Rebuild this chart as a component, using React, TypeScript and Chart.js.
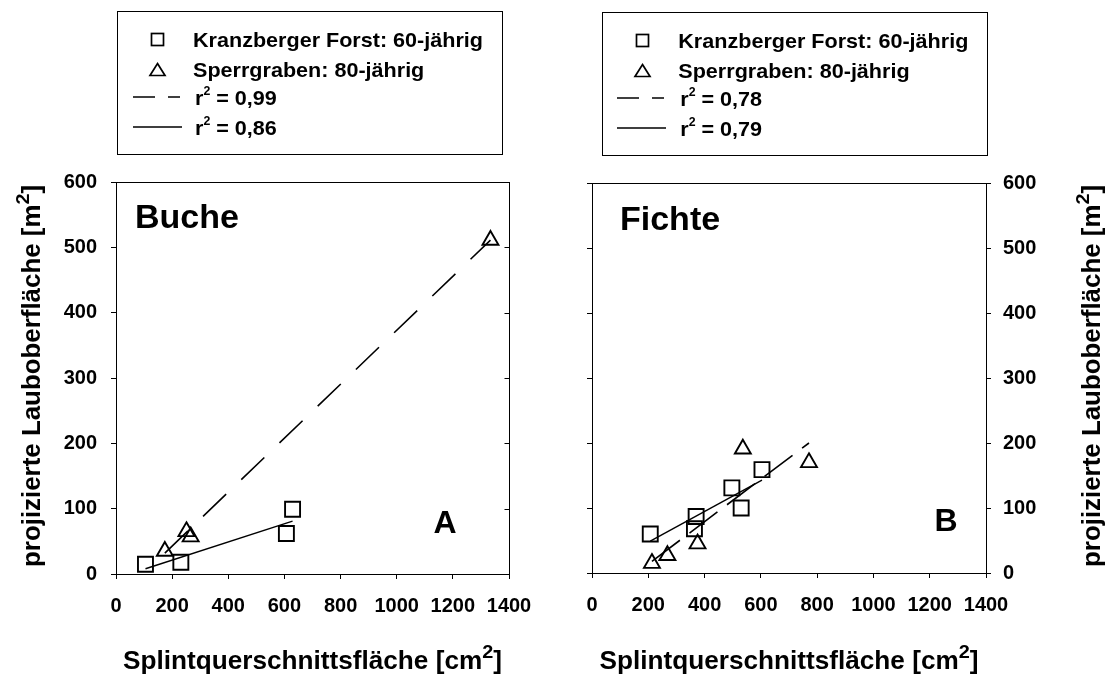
import React, { useEffect, useRef } from "react";
import { Chart, registerables } from "chart.js";

Chart.register(...registerables);

const FONT = "'Liberation Sans', Arial, Helvetica, sans-serif";

// ---- data ----
const legendSeries = ["Kranzberger Forst: 60-jährig", "Sperrgraben: 80-jährig"];
const xTitle = "Splintquerschnittsfläche [cm";
const yTitle = "projizierte Lauboberfläche [m";

// Buche (panel A)
const buKranzX = [105, 231, 607, 629];
const buKranzY = [15, 18, 62, 99];
const buSperrX = [174, 251, 266, 1334];
const buSperrY = [35, 65, 57, 511];
const buFitSperrX = [174, 1334];
const buFitSperrY = [32, 511];
const buFitKranzX = [105, 629];
const buFitKranzY = [8, 81];
const buR2 = ["0,99", "0,86"];

// Fichte (panel B)
const fiKranzX = [207, 370, 364, 497, 530, 604];
const fiKranzY = [60, 87, 68, 131, 100, 159];
const fiSperrX = [213, 268, 375, 536, 771];
const fiSperrY = [15, 27, 45, 191, 170];
const fiFitSperrX = [213, 771];
const fiFitSperrY = [18, 200];
const fiFitKranzX = [207, 604];
const fiFitKranzY = [49, 143];
const fiR2 = ["0,78", "0,79"];

const xMin = 0, xMax = 1400, xStep = 200;
const yMin = 0, yMax = 600, yStep = 100;

const zip = (xs: number[], ys: number[]) => xs.map((x, i) => ({ x, y: ys[i] }));

type Part = { t: string; size: number; dy: number };

function drawParts(ctx: CanvasRenderingContext2D, parts: Part[], x: number, y: number, targetW: number | null, align: "left" | "center") {
  let total = 0;
  const widths = parts.map((p) => {
    ctx.font = `bold ${p.size}px ${FONT}`;
    const w = ctx.measureText(p.t).width;
    total += w;
    return w;
  });
  const sc = targetW ? targetW / total : 1;
  ctx.save();
  ctx.translate(x, y);
  ctx.scale(sc, 1);
  let cx = align === "center" ? -total / 2 : 0;
  ctx.textAlign = "left";
  ctx.textBaseline = "alphabetic";
  ctx.fillStyle = "#000";
  parts.forEach((p, i) => {
    ctx.font = `bold ${p.size}px ${FONT}`;
    ctx.fillText(p.t, cx, p.dy);
    cx += widths[i];
  });
  ctx.restore();
}

type Panel = {
  name: string;
  letter: string;
  kx: number[]; ky: number[]; sx: number[]; sy: number[];
  fdx: number[]; fdy: number[]; fsx: number[]; fsy: number[];
  r2: string[];
  dash: number[];
  width: number;
  pad: { left: number; right: number; top: number; bottom: number };
  yMainPos: "left" | "right";
  yMainW: number; yOtherW: number; yPad: number;
  innerTicksOther: boolean;
  box: { x: number; y: number; w: number; h: number };
  mX: number; tX: number; rowY: number[]; lineX: number[]; dy: number;
  nameX: number; nameY: number; letterX: number; letterY: number;
  xTitleX: number; yTitleX: number;
};

const LEG = 21;

function decorPlugin(p: Panel) {
  return {
    id: "decor",
    afterDraw(chart: any) {
      const ctx: CanvasRenderingContext2D = chart.ctx;
      const a = chart.chartArea;
      ctx.save();
      ctx.strokeStyle = "#000";
      ctx.lineWidth = 1;
      // top frame
      const ty = Math.round(a.top) + 0.5;
      ctx.beginPath();
      ctx.moveTo(Math.round(a.left), ty);
      ctx.lineTo(Math.round(a.right) + 1, ty);
      ctx.stroke();
      // inner ticks on the opposite axis
      if (p.innerTicksOther) {
        const ys = chart.scales.y;
        const xr = Math.round(a.right) + 0.5;
        ys.ticks.forEach((t: any) => {
          const py = Math.round(ys.getPixelForValue(t.value)) + 0.5;
          ctx.beginPath();
          ctx.moveTo(xr - 5, py);
          ctx.lineTo(xr, py);
          ctx.stroke();
        });
      }
      // legend box
      ctx.strokeRect(p.box.x, p.box.y, p.box.w, p.box.h);
      // markers
      ctx.lineWidth = 1.7;
      const s = 12;
      ctx.strokeRect(p.mX - s / 2, p.rowY[0] - 7.5 + p.dy - s / 2, s, s);
      const tcy = p.rowY[1] - 7 + p.dy;
      ctx.beginPath();
      ctx.moveTo(p.mX, tcy - 6.5);
      ctx.lineTo(p.mX + 7.5, tcy + 5.5);
      ctx.lineTo(p.mX - 7.5, tcy + 5.5);
      ctx.closePath();
      ctx.stroke();
      // line samples
      ctx.lineWidth = 1.4;
      const ly1 = p.rowY[2] - 8 + p.dy;
      ctx.beginPath();
      ctx.moveTo(p.lineX[0], ly1); ctx.lineTo(p.lineX[0] + 22, ly1);
      ctx.moveTo(p.lineX[0] + 35, ly1); ctx.lineTo(p.lineX[0] + 47, ly1);
      const ly2 = p.rowY[3] - 8 + p.dy;
      ctx.moveTo(p.lineX[0], ly2); ctx.lineTo(p.lineX[0] + 49, ly2);
      ctx.stroke();
      // legend texts
      ctx.font = `bold ${LEG}px ${FONT}`;
      const nat = ctx.measureText(legendSeries[0]).width;
      const lsc = 290 / nat;
      drawParts(ctx, [{ t: legendSeries[0], size: LEG, dy: 0 }], p.tX, p.rowY[0] + p.dy, nat * lsc, "left");
      ctx.font = `bold ${LEG}px ${FONT}`;
      const nat2 = ctx.measureText(legendSeries[1]).width;
      drawParts(ctx, [{ t: legendSeries[1], size: LEG, dy: 0 }], p.tX, p.rowY[1] + p.dy, nat2 * lsc, "left");
      for (let i = 0; i < 2; i++) {
        const parts: Part[] = [
          { t: "r", size: LEG, dy: 0 },
          { t: "2", size: 12, dy: -10 },
          { t: " = " + p.r2[i], size: LEG, dy: 0 },
        ];
        let tw = 0;
        parts.forEach((q) => { ctx.font = `bold ${q.size}px ${FONT}`; tw += ctx.measureText(q.t).width; });
        drawParts(ctx, parts, p.tX + 2, p.rowY[2 + i] + p.dy, tw * lsc, "left");
      }
      // panel labels
      drawParts(ctx, [{ t: p.name, size: 34, dy: 0 }], p.nameX, p.nameY, null, "left");
      drawParts(ctx, [{ t: p.letter, size: 32, dy: 0 }], p.letterX, p.letterY, null, "center");
      // axis titles
      drawParts(ctx, [
        { t: xTitle, size: 25, dy: 0 },
        { t: "2", size: 19, dy: -11 },
        { t: "]", size: 25, dy: 0 },
      ], p.xTitleX, 669, 379, "center");
      ctx.save();
      ctx.translate(p.yTitleX, (a.top + a.bottom) / 2 - 2);
      ctx.rotate(-Math.PI / 2);
      drawParts(ctx, [
        { t: yTitle, size: 25, dy: 0 },
        { t: "2", size: 19, dy: -11 },
        { t: "]", size: 25, dy: 0 },
      ], 0, 0, 382, "center");
      ctx.restore();
      ctx.restore();
    },
  };
}

function buildConfig(p: Panel): any {
  const tickFont = { family: FONT, size: 20, weight: "bold" as const };
  const border = { display: true, color: "#000", width: 1 };
  const otherPos = p.yMainPos === "left" ? "right" : "left";
  const fmt = (v: any) => String(v);
  const pt = { borderColor: "#000", backgroundColor: "rgba(0,0,0,0)", borderWidth: 1.9, showLine: false, yAxisID: "y" };
  return {
    type: "scatter",
    data: {
      datasets: [
        { label: legendSeries[0], data: zip(p.kx, p.ky), pointStyle: "rect", pointRadius: 10.6, ...pt },
        { label: legendSeries[1], data: zip(p.sx, p.sy), pointStyle: "triangle", pointRadius: 9.2, ...pt },
        { label: "r2 " + p.r2[0], data: zip(p.fdx, p.fdy), showLine: true, borderDash: p.dash, borderWidth: 1.6, borderColor: "#000", pointRadius: 0, fill: false, yAxisID: "y" },
        { label: "r2 " + p.r2[1], data: zip(p.fsx, p.fsy), showLine: true, borderWidth: 1.4, borderColor: "#000", pointRadius: 0, fill: false, yAxisID: "y" },
      ],
    },
    options: {
      responsive: false,
      animation: false,
      events: [],
      layout: { padding: p.pad },
      plugins: { legend: { display: false }, tooltip: { enabled: false }, title: { display: false } },
      scales: {
        x: {
          type: "linear", position: "bottom", min: xMin, max: xMax,
          afterFit: (s: any) => { s.height = 60; },
          ticks: { stepSize: xStep, font: tickFont, color: "#000", padding: 15, autoSkip: false, maxRotation: 0, minRotation: 0, callback: fmt },
          grid: { drawOnChartArea: false, drawTicks: true, tickLength: 5, color: "#000" },
          border,
        },
        y: {
          type: "linear", position: p.yMainPos, min: yMin, max: yMax,
          afterFit: (s: any) => { s.width = p.yMainW; },
          ticks: { stepSize: yStep, font: tickFont, color: "#000", padding: p.yPad, autoSkip: false, callback: fmt },
          grid: { drawOnChartArea: false, drawTicks: true, tickLength: 5, color: "#000" },
          border,
        },
        y2: {
          type: "linear", position: otherPos, min: yMin, max: yMax,
          afterFit: (s: any) => { s.width = p.yOtherW; },
          ticks: { stepSize: yStep, display: false },
          grid: { drawOnChartArea: false, drawTicks: !p.innerTicksOther, tickLength: 5, color: "#000" },
          border,
        },
      },
    },
    plugins: [decorPlugin(p)],
  };
}

const leftPanel: Panel = {
  name: "Buche", letter: "A",
  kx: buKranzX, ky: buKranzY, sx: buSperrX, sy: buSperrY,
  fdx: buFitSperrX, fdy: buFitSperrY, fsx: buFitKranzX, fsy: buFitKranzY,
  r2: buR2, dash: [32, 21],
  width: 552,
  pad: { left: 0, right: 18, top: 182, bottom: 43 },
  yMainPos: "left", yMainW: 116, yOtherW: 25, yPad: 14,
  innerTicksOther: true,
  box: { x: 117.5, y: 11.5, w: 385, h: 143 },
  mX: 157.5, tX: 193, rowY: [47, 77, 105, 135], lineX: [133], dy: 0,
  nameX: 135, nameY: 228, letterX: 445, letterY: 533,
  xTitleX: 312.5, yTitleX: 40,
};

const rightPanel: Panel = {
  name: "Fichte", letter: "B",
  kx: fiKranzX, ky: fiKranzY, sx: fiSperrX, sy: fiSperrY,
  fdx: fiFitSperrX, fdy: fiFitSperrY, fsx: fiFitKranzX, fsy: fiFitKranzY,
  r2: fiR2, dash: [35, 12],
  width: 553,
  pad: { left: 30, right: 19, top: 183, bottom: 44 },
  yMainPos: "right", yMainW: 100, yOtherW: 10, yPad: 12,
  innerTicksOther: false,
  box: { x: 50.5, y: 12.5, w: 385, h: 143 },
  mX: 90.5, tX: 126.3, rowY: [47, 77, 105, 135], lineX: [65], dy: 1,
  nameX: 68, nameY: 230, letterX: 394, letterY: 531,
  xTitleX: 237, yTitleX: 548,
};

export default function App() {
  const leftRef = useRef<HTMLCanvasElement>(null);
  const rightRef = useRef<HTMLCanvasElement>(null);
  useEffect(() => {
    const c1 = new Chart(leftRef.current as HTMLCanvasElement, buildConfig(leftPanel));
    const c2 = new Chart(rightRef.current as HTMLCanvasElement, buildConfig(rightPanel));
    return () => {
      c1.destroy();
      c2.destroy();
    };
  }, []);
  return (
    <div style={{ position: "fixed", left: 0, top: 0, width: 1105, height: 677, background: "#fff", overflow: "hidden" }}>
      <canvas ref={leftRef} width={552} height={677} style={{ position: "absolute", left: 0, top: 0, display: "block" }} />
      <canvas ref={rightRef} width={553} height={677} style={{ position: "absolute", left: 552, top: 0, display: "block" }} />
    </div>
  );
}
